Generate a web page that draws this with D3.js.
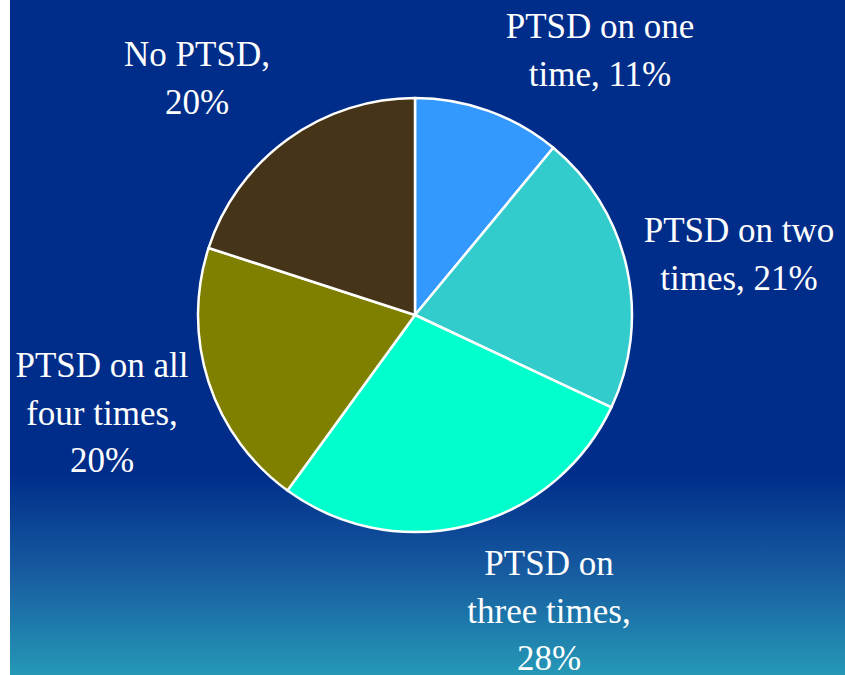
<!DOCTYPE html>
<html lang="en">
<head>
<meta charset="UTF-8">
<title>PTSD pie</title>
<script src="https://d3js.org/d3.v7.min.js"></script>
<style>
  body { margin: 0; background: #fff; }
</style>
</head>
<body>
<div id="chart"></div>
<script>
// data
const categories = ["PTSD on one time", "PTSD on two times", "PTSD on three times", "PTSD on all four times", "No PTSD"];
const values = [11, 21, 28, 20, 20];
const colors = ["#3399FF", "#33CCCC", "#00FFCC", "#808000", "#463418"];
const labelLines = [
    ["PTSD on one", "time, 11%"],
    ["PTSD on two", "times, 21%"],
    ["PTSD on", "three times,", "28%"],
    ["PTSD on all", "four times,", "20%"],
    ["No PTSD,", "20%"]
];
// label anchor (centre x, first baseline y)
const labelPos = [[600, 38], [739, 242], [549, 575], [102, 377], [197, 66]];

const width = 845, height = 675;
const cx = 415, cy = 315, radius = 217;

const svg = d3.select("#chart").append("svg")
    .attr("width", width)
    .attr("height", height);

// background gradient
const defs = svg.append("defs");
const grad = defs.append("linearGradient")
    .attr("id", "bg").attr("x1", 0).attr("y1", 0).attr("x2", 0).attr("y2", 1);
grad.append("stop").attr("offset", "0%").attr("stop-color", "#002D8A");
grad.append("stop").attr("offset", "70%").attr("stop-color", "#002D8A");
grad.append("stop").attr("offset", "85%").attr("stop-color", "#175CA0");
grad.append("stop").attr("offset", "100%").attr("stop-color", "#2598B6");

svg.append("rect")
    .attr("x", 10).attr("y", 0)
    .attr("width", width - 10).attr("height", height)
    .attr("fill", "url(#bg)");

const pie = d3.pie().sort(null).value(d => d);
const arc = d3.arc().innerRadius(0).outerRadius(radius);

const g = svg.append("g").attr("transform", `translate(${cx},${cy})`);

g.selectAll("path")
    .data(pie(values))
    .join("path")
    .attr("d", arc)
    .attr("fill", (d, i) => colors[i])
    .attr("stroke", "#fff")
    .attr("stroke-width", 2.5)
    .attr("stroke-linejoin", "round");

// labels
const lineH = 47.5;
svg.selectAll("text.lbl")
    .data(labelLines)
    .join("text")
    .attr("class", "lbl")
    .attr("text-anchor", "middle")
    .attr("font-family", "Liberation Serif")
    .attr("font-size", 35)
    .attr("fill", "#fff")
    .each(function(lines, i) {
        const t = d3.select(this);
        lines.forEach((s, j) => {
            t.append("tspan")
                .attr("x", labelPos[i][0])
                .attr("y", labelPos[i][1] + j * lineH)
                .text(s);
        });
    });
</script>
</body>
</html>
